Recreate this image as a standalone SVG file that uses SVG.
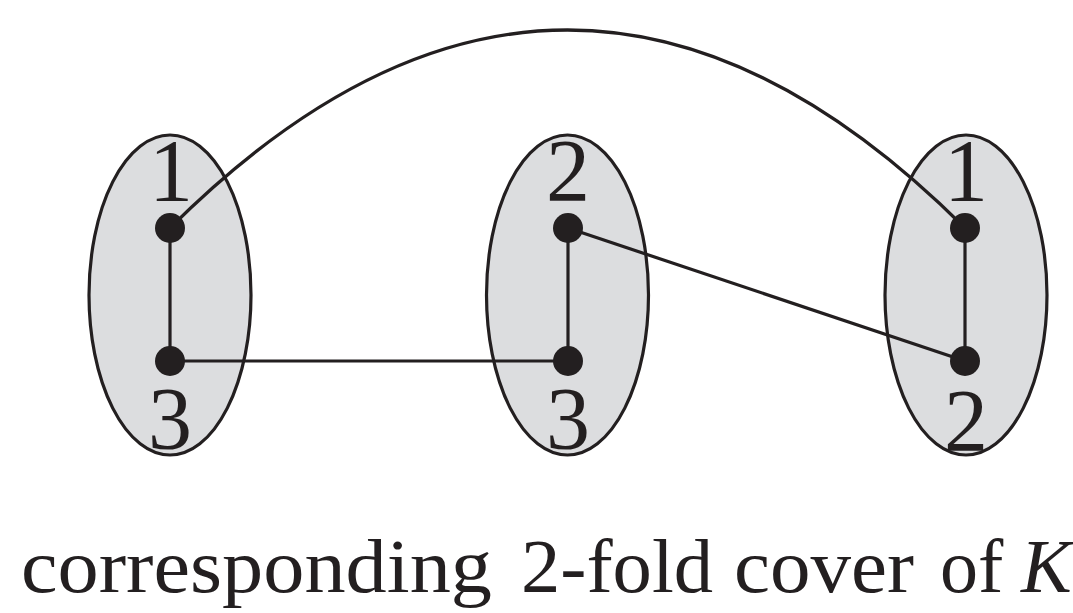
<svg xmlns="http://www.w3.org/2000/svg" width="1073" height="613" viewBox="0 0 1073 613">
  <style>
    .fiber { fill: #dcdddf; stroke: #231f20; stroke-width: 3.2; }
    .edge { fill: none; stroke: #231f20; stroke-width: 3.2; }
    .dot { fill: #231f20; }
    .lbl { font-family: "Liberation Serif", "DejaVu Serif", serif; font-size: 88px; fill: #231f20; text-anchor: middle; }
    .cap { font-family: "Liberation Serif", "DejaVu Serif", serif; font-size: 76px; fill: #231f20; }
  </style>
  <rect width="1073" height="613" fill="#ffffff"/>
  <g id="fibers">
    <ellipse id="fiber-left" class="fiber" cx="170" cy="295" rx="81" ry="160"/>
    <ellipse id="fiber-middle" class="fiber" cx="567.5" cy="295" rx="81" ry="160"/>
    <ellipse id="fiber-right" class="fiber" cx="966" cy="295" rx="81" ry="160"/>
  </g>
  <g id="node-labels">
    <text class="lbl" x="171" y="200">1</text>
    <text class="lbl" x="170" y="448">3</text>
    <text class="lbl" x="568" y="200">2</text>
    <text class="lbl" x="568" y="448">3</text>
    <text class="lbl" x="966" y="200">1</text>
    <text class="lbl" x="966" y="450">2</text>
  </g>
  <g id="connectors">
    <path class="edge" d="M170,228 Q567.5,-168 965,228"/>
    <line class="edge" x1="170" y1="228" x2="170" y2="361"/>
    <line class="edge" x1="568" y1="228" x2="568" y2="361"/>
    <line class="edge" x1="965" y1="228" x2="965" y2="361"/>
    <line class="edge" x1="170" y1="361" x2="568" y2="361"/>
    <line class="edge" x1="568" y1="228" x2="965" y2="361"/>
  </g>
  <g id="node-l1"><circle class="dot" cx="170" cy="228" r="15"/></g>
  <g id="node-l3"><circle class="dot" cx="170" cy="361" r="15"/></g>
  <g id="node-m2"><circle class="dot" cx="568" cy="228" r="15"/></g>
  <g id="node-m3"><circle class="dot" cx="568" cy="361" r="15"/></g>
  <g id="node-r1"><circle class="dot" cx="965" cy="228" r="15"/></g>
  <g id="node-r2"><circle class="dot" cx="965" cy="361" r="15"/></g>
  <g id="caption">
    <text class="cap" y="592"><tspan x="21" textLength="471" lengthAdjust="spacingAndGlyphs">corresponding</tspan></text>
    <text class="cap" y="592"><tspan x="521" textLength="192" lengthAdjust="spacingAndGlyphs">2-fold</tspan></text>
    <text class="cap" y="592"><tspan x="734" textLength="180" lengthAdjust="spacingAndGlyphs">cover</tspan></text>
    <text class="cap" y="592"><tspan x="940">of</tspan></text>
    <text class="cap" y="592" x="1021" font-style="italic">K</text>
  </g>
</svg>
